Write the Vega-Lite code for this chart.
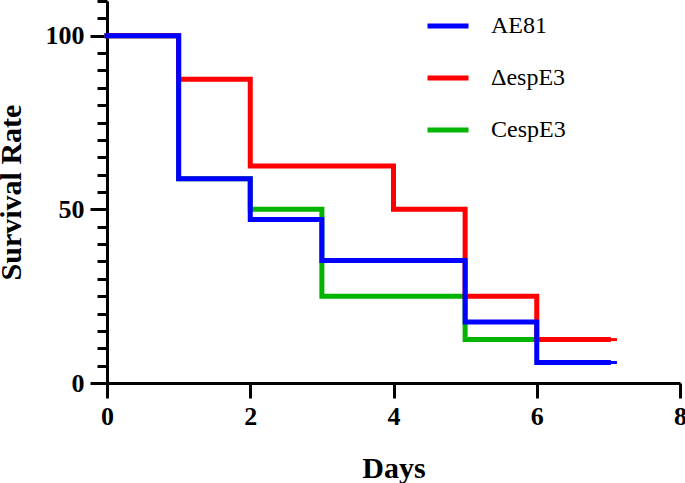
{
  "$schema": "https://vega.github.io/schema/vega-lite/v6.json",
  "width": 573,
  "height": 382,
  "autosize": {"type": "none"},
  "padding": {"left": 107, "top": 1, "right": 5, "bottom": 100},
  "background": "white",
  "config": {
    "view": {"stroke": null},
    "font": "Liberation Serif",
    "legend": {"labelFont": "Liberation Serif", "labelFontSize": 24, "labelColor": "black"},
    "axis": {"grid": false, "domainColor": "#000000", "domainWidth": 3, "labelColor": "black", "titleColor": "black", "labelFont": "Liberation Serif", "titleFont": "Liberation Serif", "labelFontWeight": "bold", "titleFontWeight": "bold", "labelFontSize": 26, "titleFontSize": 30}
  },
  "datasets": {
    "curves": [
      {"group": "CespE3", "day": 0, "rate": 100},
      {"group": "CespE3", "day": 1, "rate": 58.8},
      {"group": "CespE3", "day": 2, "rate": 50},
      {"group": "CespE3", "day": 3, "rate": 25},
      {"group": "CespE3", "day": 5, "rate": 12.5},
      {"group": "CespE3", "day": 6, "rate": 12.5},
      {"group": "ΔespE3", "day": 0, "rate": 100},
      {"group": "ΔespE3", "day": 1, "rate": 87.5},
      {"group": "ΔespE3", "day": 2, "rate": 62.5},
      {"group": "ΔespE3", "day": 4, "rate": 50},
      {"group": "ΔespE3", "day": 5, "rate": 25},
      {"group": "ΔespE3", "day": 6, "rate": 12.5},
      {"group": "ΔespE3", "day": 7, "rate": 12.5},
      {"group": "AE81", "day": 0, "rate": 100},
      {"group": "AE81", "day": 1, "rate": 58.8},
      {"group": "AE81", "day": 2, "rate": 47.1},
      {"group": "AE81", "day": 3, "rate": 35.3},
      {"group": "AE81", "day": 5, "rate": 17.6},
      {"group": "AE81", "day": 6, "rate": 5.9},
      {"group": "AE81", "day": 7, "rate": 5.9}
    ],
    "censor": [
      {"group": "ΔespE3", "day": 7, "day_end": 7.12, "rate": 12.5},
      {"group": "AE81", "day": 7, "day_end": 7.12, "rate": 5.9}
    ]
  },
  "encoding": {
    "x": {"field": "day", "type": "quantitative", "scale": {"domain": [0, 8]},
          "axis": {"values": [0, 2, 4, 6, 8], "format": "d", "tickColor": "black", "tickWidth": 3, "tickSize": 15, "labelPadding": 5, "labelFlush": false, "title": "Days", "titlePadding": 24}},
    "y": {"field": "rate", "type": "quantitative", "scale": {"domain": [0, 110]},
          "axis": {"values": [0, 5, 10, 15, 20, 25, 30, 35, 40, 45, 50, 55, 60, 65, 70, 75, 80, 85, 90, 95, 100, 105, 110],
                   "labelExpr": "datum.value % 50 === 0 ? datum.label : ''",
                   "tickColor": "black", "tickWidth": 3,
                   "tickSize": {"condition": {"test": "datum.value % 50 === 0", "value": 17}, "value": 10},
                   "labelPadding": 6, "labelFlush": false, "title": "Survival Rate", "titlePadding": 19}},
    "color": {"field": "group", "type": "nominal",
              "scale": {"domain": ["AE81", "ΔespE3", "CespE3"], "range": ["#0000FF", "#FF0000", "#00B400"]},
              "legend": {"title": null, "orient": "none", "legendX": 318, "legendY": 2, "symbolType": "stroke", "symbolSize": 1681, "symbolStrokeWidth": 5, "labelFontSize": 24, "labelFont": "Liberation Serif", "labelColor": "black", "rowPadding": 17, "labelOffset": 20}}
  },
  "layer": [
    {
      "data": {"name": "censor"},
      "mark": {"type": "rule", "strokeWidth": 3},
      "encoding": {"x2": {"field": "day_end"}}
    },
    {
      "data": {"name": "curves"},
      "mark": {"type": "line", "interpolate": "step-after", "strokeWidth": 5, "strokeCap": "square", "strokeJoin": "miter"},
      "encoding": {"order": {"field": "day", "type": "quantitative"}}
    }
  ]
}
